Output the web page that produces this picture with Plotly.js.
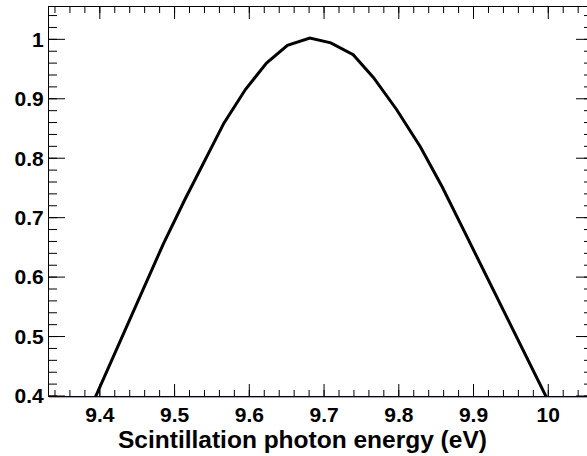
<!DOCTYPE html>
<html>
<head>
<meta charset="utf-8">
<script src="https://cdn.plot.ly/plotly-3.0.1.min.js"></script>
<style>
  html, body { margin: 0; padding: 0; overflow: hidden; background: #ffffff; }
  #chart { width: 596px; height: 456px; }
</style>
</head>
<body>
<div id="chart"></div>
<script>
// Scintillation photon energy (eV)
const energy = [9.369, 9.398, 9.427, 9.456, 9.485, 9.514, 9.543, 9.566, 9.595, 9.623,
                9.651, 9.681, 9.709, 9.739, 9.766, 9.797, 9.829, 9.858, 9.888, 9.918,
                9.948, 9.978, 10.008, 10.040];
// Relative intensity
const intensity = [0.327, 0.410, 0.492, 0.574, 0.656, 0.731, 0.803, 0.859, 0.916, 0.960,
                   0.990, 1.002, 0.994, 0.974, 0.936, 0.882, 0.819, 0.752, 0.676, 0.600,
                   0.524, 0.448, 0.372, 0.290];

// Tick labels / values (major step 0.1, minor step 0.02)
const xTickVals = [9.4, 9.5, 9.6, 9.7, 9.8, 9.9, 10];
const xTickText = ["9.4", "9.5", "9.6", "9.7", "9.8", "9.9", "10"];
const yTickVals = [0.4, 0.5, 0.6, 0.7, 0.8, 0.9, 1];
const yTickText = ["0.4", "0.5", "0.6", "0.7", "0.8", "0.9", "1"];
const xTitle = "Scintillation photon energy (eV)";

const xRange = [9.332, 10.0585];
const yRange = [0.4, 1.0544];
const W = 596, H = 456;
const M = { l: 49, r: 4, t: 7, b: 60 };
const plotW = W - M.l - M.r;   // 543
const plotH = H - M.t - M.b;   // 389

const tickFont = { family: "Liberation Sans, Arial, Helvetica, sans-serif", size: 21, color: "#000", weight: "bold" };

const trace = {
  x: energy,
  y: intensity,
  type: "scatter",
  mode: "lines",
  line: { color: "#000", width: 3 }
};

function minorVals(range, step) {
  const out = [];
  const k0 = Math.ceil(range[0] / step - 1e-9), k1 = Math.floor(range[1] / step + 1e-9);
  for (let k = k0; k <= k1; k++) out.push(Math.round(k * step * 1000) / 1000);
  return out;
}

// Tick marks drawn inside on all four sides, positioned by the axes' own scales
const shapes = [];
const tickLine = { color: "#000", width: 1 };
function addXTicks(vals, lenPx) {
  const f = lenPx / plotH;
  vals.forEach(v => {
    shapes.push({ type: "line", xref: "x", yref: "paper", x0: v, x1: v, y0: 0, y1: f, line: tickLine, layer: "above" });
    shapes.push({ type: "line", xref: "x", yref: "paper", x0: v, x1: v, y0: 1, y1: 1 - f, line: tickLine, layer: "above" });
  });
}
function addYTicks(vals, lenPx) {
  const f = lenPx / plotW;
  vals.forEach(v => {
    shapes.push({ type: "line", xref: "paper", yref: "y", x0: 0, x1: f, y0: v, y1: v, line: tickLine, layer: "above" });
    shapes.push({ type: "line", xref: "paper", yref: "y", x0: 1, x1: 1 - f, y0: v, y1: v, line: tickLine, layer: "above" });
  });
}
addXTicks(minorVals(xRange, 0.02), 6);
addXTicks(xTickVals, 12);
addYTicks(minorVals(yRange, 0.02), 8);
addYTicks(yTickVals, 16);
// faint red line just under the bottom frame
shapes.push({ type: "line", xref: "paper", yref: "paper", x0: 0, x1: 1, y0: -0.004, y1: -0.004,
              line: { color: "rgba(220,80,80,0.7)", width: 1 }, layer: "above" });

function axisBase(range, vals, text) {
  return {
    range: range,
    tickmode: "array",
    tickvals: vals,
    ticktext: text,
    ticks: "",
    showline: true,
    linecolor: "#000",
    linewidth: 1,
    mirror: true,
    showgrid: false,
    zeroline: false,
    tickfont: tickFont
  };
}

const layout = {
  width: W,
  height: H,
  margin: M,
  plot_bgcolor: "#ffffff",
  xaxis: axisBase(xRange, xTickVals, xTickText),
  yaxis: axisBase(yRange, yTickVals, yTickText),
  shapes: shapes,
  annotations: [
    { text: xTitle, xref: "paper", yref: "paper", x: 0.466, y: -0.112,
      xanchor: "center", yanchor: "middle", showarrow: false,
      font: { family: "Liberation Sans, Arial, Helvetica, sans-serif", size: 24.5, color: "#000", weight: "bold" } }
  ]
};

Plotly.newPlot("chart", [trace], layout, { staticPlot: true });
</script>
</body>
</html>
